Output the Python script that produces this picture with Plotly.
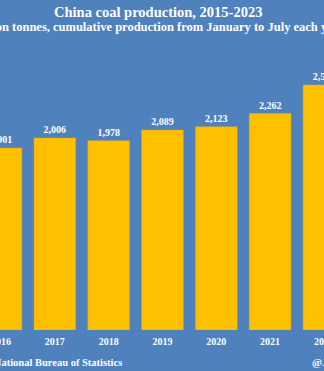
import plotly.graph_objects as go

years = [2016, 2017, 2018, 2019, 2020, 2021, 2022]
production = [1901, 2006, 1978, 2089, 2123, 2262, 2560]
labels = [f"{v:,}" for v in production]
year_labels = [str(y) for y in years]

title = "China coal production, 2015-2023"
subtitle = "Million tonnes, cumulative production from January to July each year"
source = "Source: National Bureau of Statistics"
handle = "@JKempEnergy"

BG = "#4F81BD"
BAR = "#FFC000"
FONT = "Liberation Serif"

W, H = 324, 371
T, B = 60, 41
plot_h = H - T - B
px_per_unit = 0.0957
x_lo = years[0] - 0.0185
x_hi = years[-1] + 0.001

fig = go.Figure(go.Bar(
    x=years, y=production, width=42 / 54.25,
    marker=dict(color=BAR, line=dict(color="#E6AC00", width=0.5)),
    text=labels, textposition="outside",
    textfont=dict(family=FONT, size=10, color="white", weight="bold"),
    cliponaxis=False, hoverinfo="skip",
))

def py(ypx):
    return (H - B - ypx) / plot_h

fig.update_layout(
    template="none",
    width=W, height=H,
    margin=dict(l=0, r=0, t=T, b=B, pad=0),
    paper_bgcolor=BG, plot_bgcolor=BG,
    showlegend=False,
    xaxis=dict(
        range=[x_lo, x_hi], automargin=False,
        tickvals=years, ticktext=year_labels,
        tickfont=dict(family=FONT, size=10, color="white", weight="bold"),
        ticklabeloverflow="allow", ticklabelstandoff=4,
        showgrid=False, zeroline=False, showline=False, ticks="",
    ),
    yaxis=dict(
        range=[0, plot_h / px_per_unit], automargin=False,
        showgrid=False, zeroline=False, showline=False,
        showticklabels=False,
    ),
    annotations=[
        dict(text=title, x=157.5 / W, y=py(12), xref="paper", yref="paper",
             xanchor="center", yanchor="middle", showarrow=False,
             font=dict(family=FONT, size=14.5, color="white", weight="bold")),
        dict(text=subtitle, x=157.5 / W, y=py(27), xref="paper", yref="paper",
             xanchor="center", yanchor="middle", showarrow=False,
             font=dict(family=FONT, size=12.5, color="white", weight="bold")),
        dict(text=source, x=124 / W, y=py(362), xref="paper", yref="paper",
             xanchor="right", yanchor="middle", showarrow=False,
             font=dict(family=FONT, size=10.5, color="white", weight="bold")),
        dict(text=handle, x=310 / W, y=py(362), xref="paper", yref="paper",
             xanchor="left", yanchor="middle", showarrow=False,
             font=dict(family=FONT, size=10.8, color="white", weight="bold")),
    ],
)

fig.write_html("out.html")
